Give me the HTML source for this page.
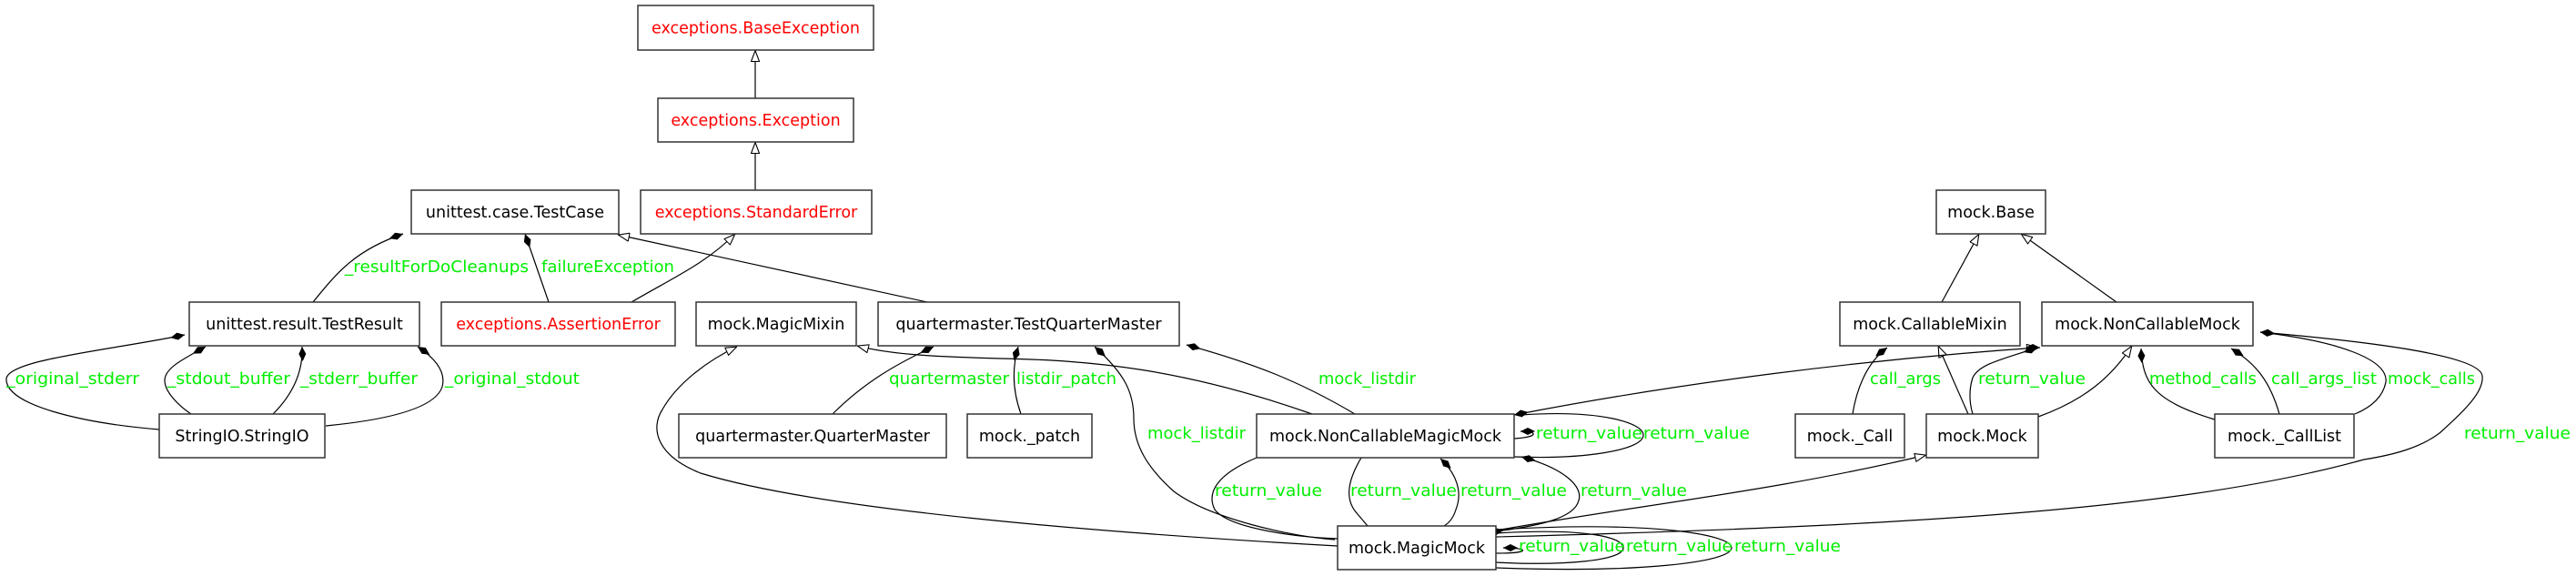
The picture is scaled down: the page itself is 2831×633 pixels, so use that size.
<!DOCTYPE html>
<html><head><meta charset="utf-8"><style>
html,body{margin:0;padding:0;background:#fff;}
svg{display:block;}
.n{fill:#fff;stroke:#333;stroke-width:1.5;}
.t{font-family:"DejaVu Sans","Liberation Sans",sans-serif;font-size:17.5px;text-anchor:middle;fill:#000;}
.r{fill:#ff0000;}
.l{font-family:"DejaVu Sans","Liberation Sans",sans-serif;font-size:17.5px;fill:#00ee00;}
.e{fill:none;stroke:#000;stroke-width:1.2;}
</style></head><body>
<svg width="2831" height="633" viewBox="0 0 2831 633" xmlns="http://www.w3.org/2000/svg">
<defs>
<marker id="d" viewBox="0 0 16 8" refX="0" refY="4" markerWidth="16" markerHeight="8" orient="auto" markerUnits="userSpaceOnUse"><path d="M0,4 L8,0 L16,4 L8,8z" fill="#000"/></marker>
<marker id="tr" viewBox="0 0 13 10" refX="13" refY="5" markerWidth="13" markerHeight="10" orient="auto" markerUnits="userSpaceOnUse"><path d="M0.5,0.5 L12.5,5 L0.5,9.5z" fill="#fff" stroke="#000" stroke-width="1.1"/></marker>
</defs>

<!-- inheritance edges -->
<path class="e" marker-end="url(#tr)" d="M830,108 L830,55"/>
<path class="e" marker-end="url(#tr)" d="M830,209 L830,156"/>
<path class="e" marker-end="url(#tr)" d="M694,332 C740,305 775,290 808,257"/>
<path class="e" marker-end="url(#tr)" d="M1019,332 L679,258"/>
<path class="e" marker-end="url(#tr)" d="M1442,455 C1300,405 1200,396 1100,394 C1030,392 980,390 942,380"/>
<path class="e" marker-end="url(#tr)" d="M1470,600 C1200,585 900,560 770,520 C720,500 715,470 728,450 C745,420 780,395 810,381"/>
<path class="e" marker-end="url(#tr)" d="M1644,583 C1800,555 1950,540 2117,500"/>
<path class="e" marker-end="url(#tr)" d="M2163,455 L2130,380"/>
<path class="e" marker-end="url(#tr)" d="M2240,458 C2290,440 2320,415 2343,380"/>
<path class="e" marker-end="url(#tr)" d="M2134,332 L2175,257"/>
<path class="e" marker-end="url(#tr)" d="M2326,332 L2221,257"/>
<path class="e" marker-start="url(#d)" marker-end="url(#tr)" d="M1664,456 C1850,420 2050,395 2240,382"/>
<path class="e" marker-start="url(#d)" d="M2242,382 L2238,382"/>

<!-- composition edges -->
<path class="e" marker-start="url(#d)" d="M443,257 C390,275 370,300 344,332"/>
<path class="e" marker-start="url(#d)" d="M577,257 L603,332"/>
<path class="e" marker-start="url(#d)" d="M203,368 C120,385 10,395 7,416 C5,445 90,465 175,472"/>
<path class="e" marker-start="url(#d)" d="M226,381 C200,395 181,405 181,418 C181,430 195,445 210,455"/>
<path class="e" marker-start="url(#d)" d="M332,381 C333,405 325,430 300,455"/>
<path class="e" marker-start="url(#d)" d="M459,381 C480,395 490,410 486,425 C478,450 420,462 358,468"/>
<path class="e" marker-start="url(#d)" d="M1026,381 C985,400 950,420 915,455"/>
<path class="e" marker-start="url(#d)" d="M1119,381 C1112,405 1113,430 1122,455"/>
<path class="e" marker-start="url(#d)" d="M1203,381 C1235,410 1246,430 1246,460 C1246,490 1262,515 1290,540 C1330,570 1420,590 1467,593"/>
<path class="e" marker-start="url(#d)" d="M1304,379 C1380,400 1430,420 1489,455"/>
<path class="e" marker-start="url(#d)" d="M2074,382 C2050,400 2040,430 2036,455"/>
<path class="e" marker-start="url(#d)" d="M2239,382 C2200,395 2175,400 2168,415 C2163,430 2165,445 2168,455"/>
<path class="e" marker-start="url(#d)" d="M2353,383 C2355,420 2365,440 2434,461"/>
<path class="e" marker-start="url(#d)" d="M2452,383 C2480,400 2495,420 2505,455"/>
<path class="e" marker-start="url(#d)" d="M2484,365 C2570,375 2625,395 2622,420 C2618,440 2600,450 2588,455"/>
<path class="e" marker-start="url(#d)" d="M2484,365 C2600,375 2725,390 2728,413 C2730,430 2710,450 2681,476 C2660,492 2630,500 2598,505 C2400,560 2100,578 1644,590"/>
<!-- NCMM self loops -->
<path class="e" marker-start="url(#d)" d="M1671,474 C1690,474 1692,480 1664,482"/>
<path class="e" d="M1672,456 C1760,450 1806,465 1806,478 C1806,495 1740,505 1664,502"/>
<!-- NCMM <-> MagicMock -->
<path class="e" marker-end="url(#d)" d="M1381,503 C1340,520 1325,540 1335,560 C1350,580 1420,590 1470,592"/>
<path class="e" marker-end="url(#d)" d="M1496,503 C1480,530 1478,550 1492,565 L1503,578"/>
<path class="e" marker-start="url(#d)" d="M1583,504 C1600,520 1608,540 1600,560 C1597,570 1592,575 1587,578"/>
<path class="e" marker-start="url(#d)" d="M1672,502 C1720,515 1740,535 1735,550 C1730,570 1690,578 1644,584"/>
<path class="e" marker-start="url(#d)" d="M1652,583 L1644,584"/>
<!-- MagicMock self loops -->
<path class="e" marker-start="url(#d)" d="M1652,602 C1680,602 1684,608 1644,608"/>
<path class="e" d="M1644,586 C1740,580 1784,590 1784,602 C1784,616 1720,622 1644,618"/>
<path class="e" d="M1644,582 C1820,572 1903,588 1903,602 C1903,618 1800,630 1644,624"/>

<!-- nodes -->
<rect class="n" x="701" y="6" width="259" height="49"/><text class="t r" x="830.5" y="36.5">exceptions.BaseException</text>
<rect class="n" x="723" y="108" width="215" height="48"/><text class="t r" x="830.5" y="138">exceptions.Exception</text>
<rect class="n" x="452" y="209" width="228" height="48"/><text class="t" x="566" y="239">unittest.case.TestCase</text>
<rect class="n" x="704" y="209" width="254" height="48"/><text class="t r" x="831" y="239">exceptions.StandardError</text>
<rect class="n" x="208" y="332" width="253" height="48"/><text class="t" x="334.5" y="362">unittest.result.TestResult</text>
<rect class="n" x="485" y="332" width="257" height="48"/><text class="t r" x="613.5" y="362">exceptions.AssertionError</text>
<rect class="n" x="765" y="332" width="176" height="48"/><text class="t" x="853" y="362">mock.MagicMixin</text>
<rect class="n" x="965" y="332" width="331" height="48"/><text class="t" x="1130.5" y="362">quartermaster.TestQuarterMaster</text>
<rect class="n" x="175" y="455" width="182" height="48"/><text class="t" x="266" y="485">StringIO.StringIO</text>
<rect class="n" x="746" y="455" width="294" height="48"/><text class="t" x="893" y="485">quartermaster.QuarterMaster</text>
<rect class="n" x="1063" y="455" width="137" height="48"/><text class="t" x="1131.5" y="485">mock._patch</text>
<rect class="n" x="1381" y="455" width="283" height="48"/><text class="t" x="1522.5" y="485">mock.NonCallableMagicMock</text>
<rect class="n" x="1470" y="578" width="174" height="48"/><text class="t" x="1557" y="608">mock.MagicMock</text>
<rect class="n" x="2128" y="209" width="120" height="48"/><text class="t" x="2188" y="239">mock.Base</text>
<rect class="n" x="2022" y="332" width="198" height="48"/><text class="t" x="2121" y="362">mock.CallableMixin</text>
<rect class="n" x="2244" y="332" width="232" height="48"/><text class="t" x="2360" y="362">mock.NonCallableMock</text>
<rect class="n" x="1973" y="455" width="120" height="48"/><text class="t" x="2033" y="485">mock._Call</text>
<rect class="n" x="2117" y="455" width="123" height="48"/><text class="t" x="2178.5" y="485">mock.Mock</text>
<rect class="n" x="2434" y="455" width="153" height="48"/><text class="t" x="2510.5" y="485">mock._CallList</text>

<!-- labels -->
<text class="l" x="379" y="299" textLength="202" lengthAdjust="spacingAndGlyphs">_resultForDoCleanups</text>
<text class="l" x="595" y="299" textLength="146" lengthAdjust="spacingAndGlyphs">failureException</text>
<text class="l" x="7" y="422" textLength="146" lengthAdjust="spacingAndGlyphs">_original_stderr</text>
<text class="l" x="184" y="422" textLength="135" lengthAdjust="spacingAndGlyphs">_stdout_buffer</text>
<text class="l" x="330" y="422" textLength="129" lengthAdjust="spacingAndGlyphs">_stderr_buffer</text>
<text class="l" x="489" y="422" textLength="148" lengthAdjust="spacingAndGlyphs">_original_stdout</text>
<text class="l" x="977" y="422" textLength="132" lengthAdjust="spacingAndGlyphs">quartermaster</text>
<text class="l" x="1117" y="422" textLength="110" lengthAdjust="spacingAndGlyphs">listdir_patch</text>
<text class="l" x="1449" y="422" textLength="107" lengthAdjust="spacingAndGlyphs">mock_listdir</text>
<text class="l" x="1261" y="482" textLength="108" lengthAdjust="spacingAndGlyphs">mock_listdir</text>
<text class="l" x="1688" y="482" textLength="117" lengthAdjust="spacingAndGlyphs">return_value</text>
<text class="l" x="1806" y="482" textLength="117" lengthAdjust="spacingAndGlyphs">return_value</text>
<text class="l" x="1335" y="545" textLength="118" lengthAdjust="spacingAndGlyphs">return_value</text>
<text class="l" x="1484" y="545" textLength="117" lengthAdjust="spacingAndGlyphs">return_value</text>
<text class="l" x="1605" y="545" textLength="117" lengthAdjust="spacingAndGlyphs">return_value</text>
<text class="l" x="1737" y="545" textLength="117" lengthAdjust="spacingAndGlyphs">return_value</text>
<text class="l" x="1669" y="606" textLength="117" lengthAdjust="spacingAndGlyphs">return_value</text>
<text class="l" x="1787" y="606" textLength="117" lengthAdjust="spacingAndGlyphs">return_value</text>
<text class="l" x="1906" y="606" textLength="117" lengthAdjust="spacingAndGlyphs">return_value</text>
<text class="l" x="2055" y="422" textLength="78" lengthAdjust="spacingAndGlyphs">call_args</text>
<text class="l" x="2174" y="422" textLength="118" lengthAdjust="spacingAndGlyphs">return_value</text>
<text class="l" x="2362" y="422" textLength="118" lengthAdjust="spacingAndGlyphs">method_calls</text>
<text class="l" x="2496" y="422" textLength="116" lengthAdjust="spacingAndGlyphs">call_args_list</text>
<text class="l" x="2624" y="422" textLength="96" lengthAdjust="spacingAndGlyphs">mock_calls</text>
<text class="l" x="2708" y="482" textLength="117" lengthAdjust="spacingAndGlyphs">return_value</text>
</svg>
</body></html>
